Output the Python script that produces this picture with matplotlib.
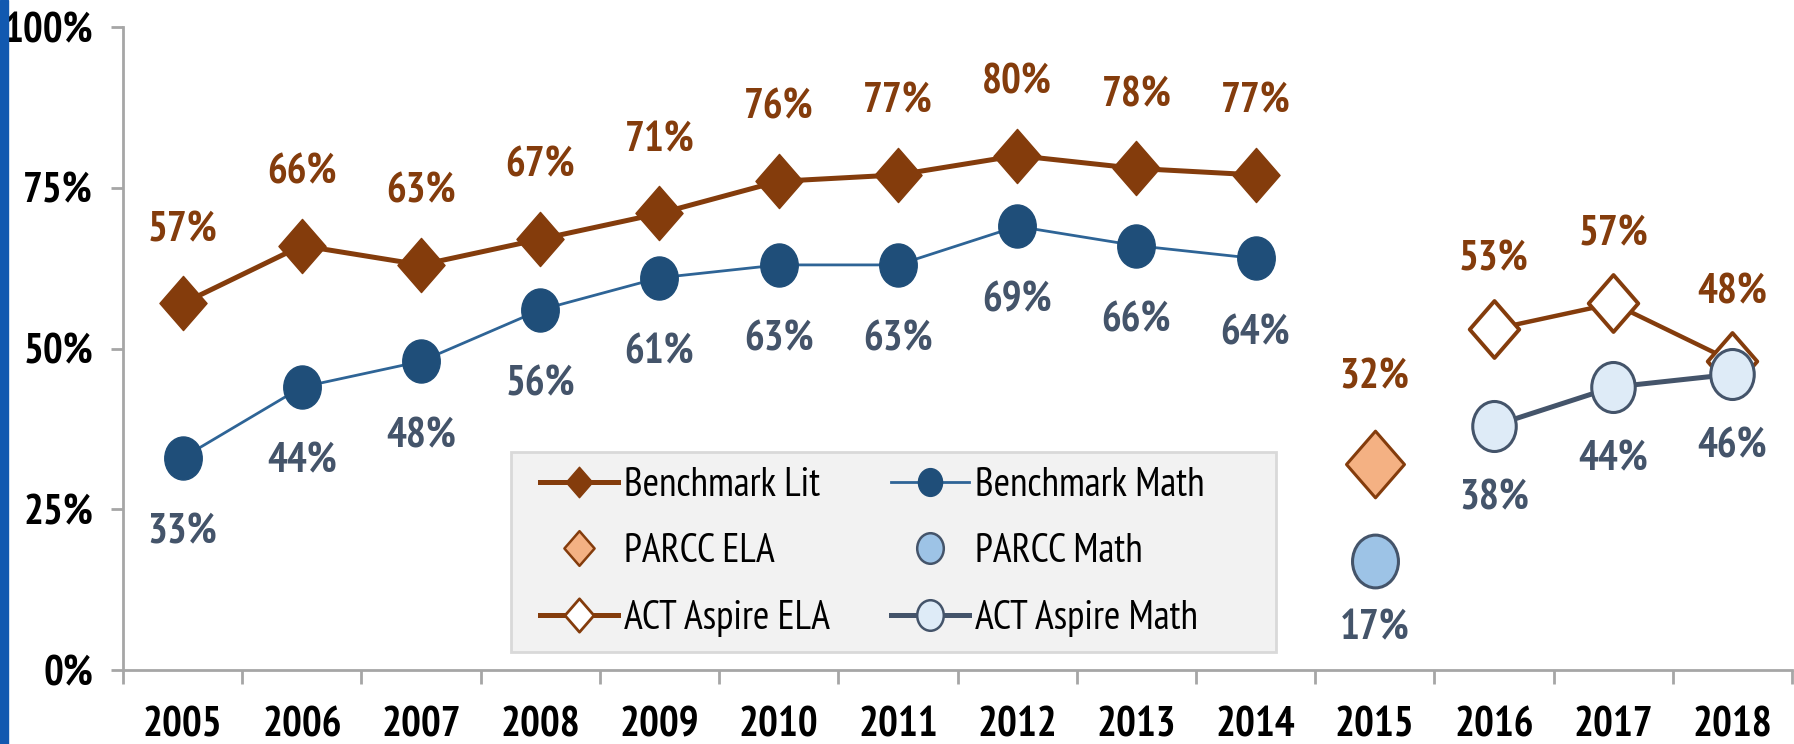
import matplotlib
matplotlib.use("Agg")
import matplotlib.pyplot as plt
from matplotlib.patches import Rectangle
from matplotlib.path import Path
from matplotlib.lines import Line2D
from matplotlib.transforms import Affine2D
from matplotlib import font_manager as fm

years = ["2005", "2006", "2007", "2008", "2009", "2010", "2011",
         "2012", "2013", "2014", "2015", "2016", "2017", "2018"]
bench_years = years[:10]
bench_lit = [57, 66, 63, 67, 71, 76, 77, 80, 78, 77]
bench_math = [33, 44, 48, 56, 61, 63, 63, 69, 66, 64]
parcc_years = ["2015"]
parcc_ela = [32]
parcc_math = [17]
act_years = ["2016", "2017", "2018"]
act_ela = [53, 57, 48]
act_math = [38, 44, 46]
yticks = [0, 25, 50, 75, 100]
legend_labels = ["Benchmark Lit", "PARCC ELA", "ACT Aspire ELA",
                 "Benchmark Math", "PARCC Math", "ACT Aspire Math"]

prefs = ["Arial Narrow", "Liberation Sans Narrow", "Archivo Narrow",
         "PT Sans Narrow", "Roboto Condensed", "Fira Sans Condensed",
         "IBM Plex Sans Condensed", "Open Sans Condensed", "Liberation Sans"]


def wnum(w):
    if isinstance(w, str):
        return {"bold": 700, "normal": 400, "regular": 400}.get(w.lower(), 400)
    return int(w)


faces = {}
for f in fm.fontManager.ttflist:
    faces.setdefault(f.name, set()).add(wnum(f.weight))
bold_fam = next((p for p in prefs if p in faces and max(faces[p]) >= 600), "Liberation Sans")
reg_fam = next((p for p in prefs if p in faces), "Liberation Sans")
FONT_B = [bold_fam, "DejaVu Sans"]
FONT_R = [bold_fam if 400 in faces.get(bold_fam, ()) else reg_fam, "DejaVu Sans"]
plt.rcParams["font.family"] = FONT_B

BROWN = "#843C0C"
NAVY = "#1F4E79"
SLATE = "#44546A"

# vertically stretched markers (the reference is slightly stretched)
SX = 0.87
ELLIPSE = Path.unit_circle().transformed(Affine2D().scale(SX, 1.0))
DIAMOND = Path([(0, 1), (SX, 0), (0, -1), (-SX, 0), (0, 1)],
               [Path.MOVETO, Path.LINETO, Path.LINETO, Path.LINETO, Path.CLOSEPOLY])

W, H = 1794, 744
AX_L, AX_R, AX_T, AX_B = 123, 1792, 27, 670
fig = plt.figure(figsize=(W / 100, H / 100), dpi=100)
ax = fig.add_axes([AX_L / W, 1 - AX_B / H, (AX_R - AX_L) / W, (AX_B - AX_T) / H])


def ax_xy(px, py):
    return (px - AX_L) / (AX_R - AX_L), (AX_B - py) / (AX_B - AX_T)


pos = {y: i for i, y in enumerate(years)}
xb = [pos[y] for y in bench_years]
xp = [pos[y] for y in parcc_years]
xa = [pos[y] for y in act_years]

ax.plot(xb, bench_lit, color=BROWN, lw=3.6, marker=DIAMOND, ms=39,
        mfc=BROWN, mec=BROWN, zorder=3)
ax.plot(xp, parcc_ela, ls="none", marker=DIAMOND, ms=48, mfc="#F4B183",
        mec=BROWN, mew=2.2, zorder=3)
ax.plot(xa, act_ela, color=BROWN, lw=3.2, marker=DIAMOND, ms=41, mfc="white",
        mec=BROWN, mew=2.8, zorder=3)
ax.plot(xb, bench_math, color="#2E6496", lw=2.0, marker=ELLIPSE, ms=31,
        mfc=NAVY, mec=NAVY, zorder=4)
ax.plot(xp, parcc_math, ls="none", marker=ELLIPSE, ms=38, mfc="#9DC3E6",
        mec=SLATE, mew=2.2, zorder=4)
ax.plot(xa, act_math, color=SLATE, lw=3.6, marker=ELLIPSE, ms=36, mfc="#DEEBF7",
        mec=SLATE, mew=2.2, zorder=4)

lab_kw = dict(textcoords="offset pixels", ha="center", va="center",
              fontsize=30, fontweight="bold", family=FONT_B)
for x, v in zip(xb, bench_lit):
    ax.annotate(f"{v}%", (x, v), xytext=(0, 73), color=BROWN, **lab_kw)
for x, v in zip(xb, bench_math):
    ax.annotate(f"{v}%", (x, v), xytext=(0, -75), color=SLATE, **lab_kw)
for x, v in zip(xp, parcc_ela):
    ax.annotate(f"{v}%", (x, v), xytext=(0, 86), color=BROWN, **lab_kw)
for x, v in zip(xp, parcc_math):
    ax.annotate(f"{v}%", (x, v), xytext=(0, -68), color=SLATE, **lab_kw)
for x, v in zip(xa, act_ela):
    ax.annotate(f"{v}%", (x, v), xytext=(0, 69), color=BROWN, **lab_kw)
for x, v in zip(xa, act_math):
    ax.annotate(f"{v}%", (x, v), xytext=(0, -73), color=SLATE, **lab_kw)

ax.set_xlim(-0.5, len(years) - 0.5)
ax.set_ylim(0, 100)
ax.set_yticks(yticks)
ax.set_yticklabels([f"{t}%" for t in yticks], fontsize=30, fontweight="bold",
                   family=FONT_B)
ax.set_xticks([i - 0.5 for i in range(len(years) + 1)])
ax.set_xticklabels([])
ax.set_xticks(range(len(years)), minor=True)
ax.set_xticklabels(years, minor=True, fontsize=30, fontweight="bold", family=FONT_B)
ax.tick_params(axis="x", which="major", length=10, width=2, color="#A6A6A6",
               direction="out")
ax.tick_params(axis="x", which="minor", length=0, pad=26)
ax.tick_params(axis="y", length=8.6, width=2, color="#A6A6A6", pad=13)
for s in ["top", "right"]:
    ax.spines[s].set_visible(False)
for s in ["left", "bottom"]:
    ax.spines[s].set_color("#A6A6A6")
    ax.spines[s].set_linewidth(2)

# legend box
bx0, by0 = ax_xy(511, 652)
bx1, by1 = ax_xy(1276, 452)
ax.add_patch(Rectangle((bx0, by0), bx1 - bx0, by1 - by0, transform=ax.transAxes,
                       facecolor="#F2F2F2", edgecolor="#D9D9D9", lw=2, zorder=5))

handles = [
    Line2D([], [], color=BROWN, lw=3.6, marker=DIAMOND, ms=22, mfc=BROWN, mec=BROWN),
    Line2D([], [], ls="none", marker=DIAMOND, ms=25, mfc="#F4B183", mec=BROWN, mew=1.8),
    Line2D([], [], color=BROWN, lw=3.6, marker=DIAMOND, ms=24, mfc="white", mec=BROWN, mew=2),
    Line2D([], [], color="#2E6496", lw=2.0, marker=ELLIPSE, ms=20, mfc=NAVY, mec=NAVY),
    Line2D([], [], ls="none", marker=ELLIPSE, ms=22, mfc="#9DC3E6", mec=SLATE, mew=1.8),
    Line2D([], [], color=SLATE, lw=3.6, marker=ELLIPSE, ms=22, mfc="#DEEBF7", mec=SLATE, mew=1.8),
]
leg = ax.legend(handles, legend_labels, ncol=2, loc="upper left",
                bbox_to_anchor=ax_xy(540, 467),
                borderaxespad=0, borderpad=0, frameon=False,
                prop={"family": FONT_R, "size": 28.5},
                handlelength=1.97, handletextpad=0.15, columnspacing=1.55,
                labelspacing=0.74)
leg.set_zorder(6)

fig.patches.append(Rectangle((0, 0), 8 / W, 1, transform=fig.transFigure,
                             color="#1259B0", zorder=0))
fig.savefig("out.png", dpi=100)
